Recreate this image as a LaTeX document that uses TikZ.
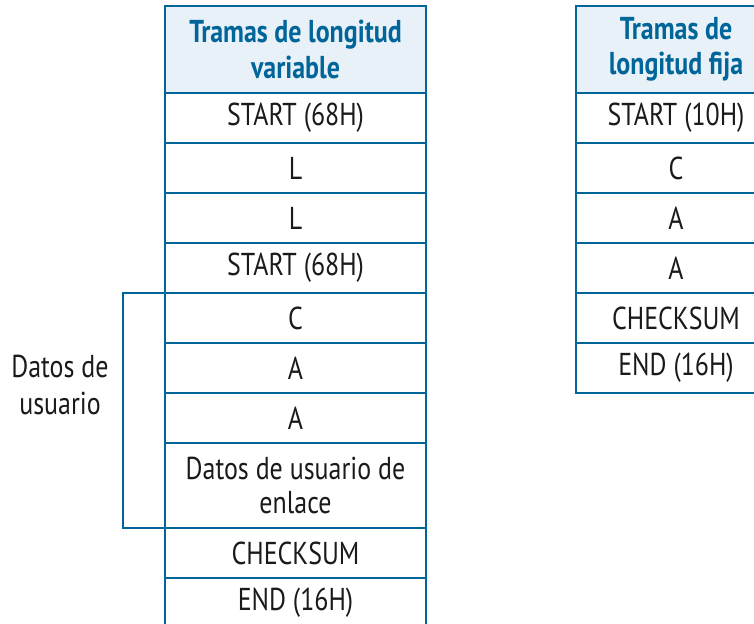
\documentclass[tikz,border=0pt]{standalone}
\usepackage{fontspec}
\setmainfont{PT Sans}[FakeStretch=0.82]
\usetikzlibrary{positioning}
\definecolor{marco}{HTML}{00669A}
\definecolor{fondo}{HTML}{E8F0F8}
\definecolor{letra}{HTML}{1A1A1A}
\tikzset{
  celda/.style={draw=marco,line width=1.1pt,minimum height=1cm,inner sep=0pt,outer sep=0pt,
    align=center,text=letra,font=\fontsize{18}{19}\selectfont},
  cabecera/.style={celda,fill=fondo,minimum height=1.74cm,text=marco,font=\fontsize{18}{20}\selectfont\bfseries},
  ancha/.style={minimum width=5.22cm},
  estrecha/.style={minimum width=4cm},
}
\begin{document}
\begin{tikzpicture}
\clip(0,0) rectangle (15.08,12.46);
% tramas de longitud variable
\node[cabecera,ancha,anchor=north west](v0) at (3.3,12.34){Tramas de longitud\\variable};
\node[celda,ancha,below=0pt of v0](v1){START (68H)};
\node[celda,ancha,below=0pt of v1](v2){L};
\node[celda,ancha,below=0pt of v2](v3){L};
\node[celda,ancha,below=0pt of v3](v4){START (68H)};
\node[celda,ancha,below=0pt of v4](v5){C};
\node[celda,ancha,below=0pt of v5](v6){A};
\node[celda,ancha,below=0pt of v6](v7){A};
\node[celda,ancha,minimum height=1.7cm,below=0pt of v7](v8){Datos de usuario de\\enlace};
\node[celda,ancha,below=0pt of v8](v9){CHECKSUM};
\node[celda,ancha,below=0pt of v9](v10){END (16H)};
% llave de datos de usuario
\draw[marco,line width=1.1pt](v5.north west)--++(-0.84,0)|-(v8.south west);
\node[text=letra,align=center,font=\fontsize{18}{21}\selectfont](usuario) at (1.2,4.76){Datos de\\usuario};
% tramas de longitud fija
\node[cabecera,estrecha,anchor=north west](f0) at (11.52,12.34){Tramas de\\longitud fija};
\node[celda,estrecha,below=0pt of f0](f1){START (10H)};
\node[celda,estrecha,below=0pt of f1](f2){C};
\node[celda,estrecha,below=0pt of f2](f3){A};
\node[celda,estrecha,below=0pt of f3](f4){A};
\node[celda,estrecha,below=0pt of f4](f5){CHECKSUM};
\node[celda,estrecha,below=0pt of f5](f6){END (16H)};
\end{tikzpicture}
\end{document}
